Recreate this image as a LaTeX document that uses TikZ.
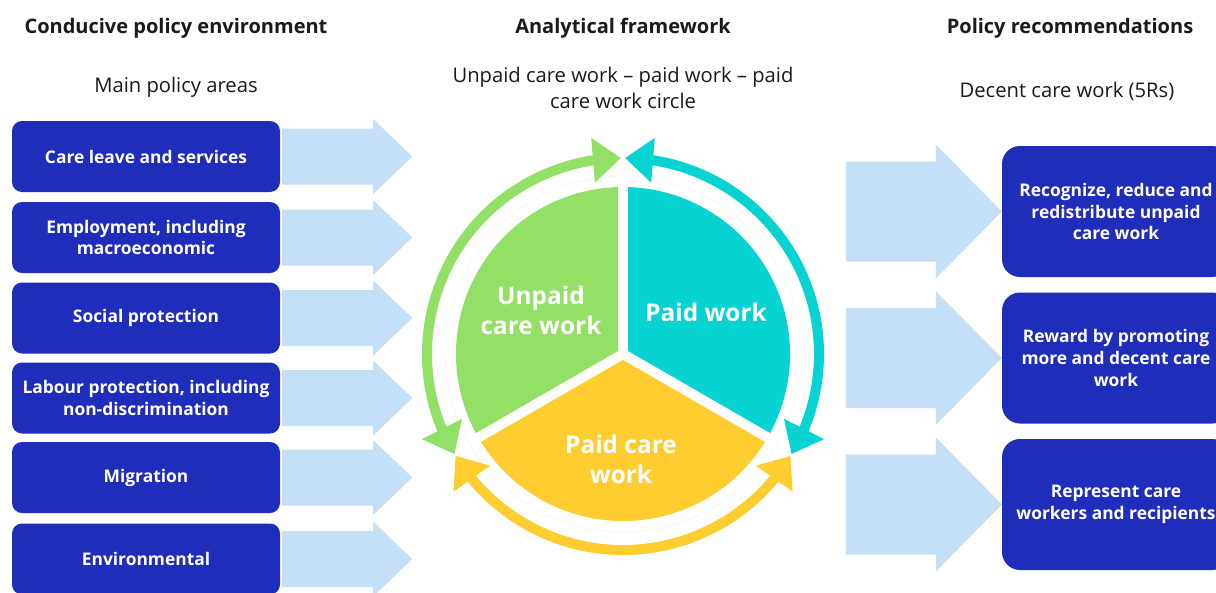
\documentclass[tikz,border=0pt]{standalone}
\usepackage{fontspec}
\setmainfont{Open Sans}
\usetikzlibrary{arrows.meta,bending,calc}

\definecolor{boxblue}{HTML}{1F2DBB}
\definecolor{arrowblue}{HTML}{C4DFF6}
\definecolor{pgreen}{HTML}{92E065}
\definecolor{pcyan}{HTML}{07D3D3}
\definecolor{pyellow}{HTML}{FFCD2F}
\definecolor{headtext}{HTML}{1A1A1A}

\begin{document}
\begin{tikzpicture}[x=1pt,y=1pt,
  heading/.style={text=headtext, font=\bfseries\fontsize{20}{24}\selectfont, inner sep=0pt, anchor=base},
  subheading/.style={text=headtext, font=\fontsize{20.2}{26}\selectfont, align=center, inner sep=0pt},
  policybox/.style={fill=boxblue, rounded corners=10pt, minimum width=268pt, minimum height=71pt,
    inner sep=0pt, text=white, align=center, font=\bfseries\fontsize{17.4}{21.5}\selectfont},
  recbox/.style={fill=boxblue, rounded corners=18pt, minimum width=228pt, minimum height=131pt,
    inner sep=0pt, text=white, align=center, font=\bfseries\fontsize{17.4}{21.8}\selectfont},
  pielabel/.style={text=white, align=center, font=\bfseries\fontsize{24.4}{30}\selectfont, inner sep=0pt},
  cyclearc/.style={line width=10pt, {Triangle[width=43pt,length=28pt]}-{Triangle[width=43pt,length=28pt]}},
  gap/.style={white, line width=10pt}
]
\clip (0,0) rectangle (1216,-592);
\fill[white] (0,0) rectangle (1216,-592);

% column headings
\node[heading] (h1) at (176,-33) {Conducive policy environment};
\node[heading] (h2) at (623,-33) {Analytical framework};
\node[heading] (h3) at (1070,-33) {Policy recommendations};

\node[subheading, anchor=base] (s1) at (176,-92) {Main policy areas};
\node[subheading] (s2) at (623,-88) {Unpaid care work -- paid work -- paid\\care work circle};
\node[subheading, anchor=base] (s3) at (1067,-97) {Decent care work (5Rs)};

% policy areas
\node[policybox] (L1) at (146,-156.5) {Care leave and services};
\node[policybox] (L2) at (146,-237.5) {Employment, including\\macroeconomic};
\node[policybox] (L3) at (146,-318) {Social protection};
\node[policybox] (L4) at (146,-398) {Labour protection, including\\non-discrimination};
\node[policybox] (L5) at (146,-477.5) {Migration};
\node[policybox] (L6) at (146,-559) {Environmental};

\foreach \n in {L1,L2,L3,L4,L5,L6}{
  \fill[arrowblue] ($(\n.east)+(2,28)$) -- ($(\n.east)+(93,28)$) -- ($(\n.east)+(93,37.5)$)
    -- ($(\n.east)+(132,0)$) -- ($(\n.east)+(93,-37.5)$) -- ($(\n.east)+(93,-28)$)
    -- ($(\n.east)+(2,-28)$) -- cycle;
}

% recommendations
\node[recbox] (R1) at (1116,-211.5) {Recognize, reduce and\\redistribute unpaid\\care work};
\node[recbox] (R2) at (1116,-358) {Reward by promoting\\more and decent care\\work};
\node[recbox] (R3) at (1116,-504.5) {Represent care\\workers and recipients};

\foreach \n in {R1,R2,R3}{
  \fill[arrowblue] ($(\n.west)+(-156,50)$) -- ($(\n.west)+(-66,50)$) -- ($(\n.west)+(-66,67)$)
    -- (\n.west) -- ($(\n.west)+(-66,-67)$) -- ($(\n.west)+(-66,-50)$)
    -- ($(\n.west)+(-156,-50)$) -- cycle;
}

% the circle
\coordinate (C) at (623,-354);
\draw[black!3, line width=0.8pt] (C) circle[radius=178pt];
\fill[pgreen]  (C) -- ++(90:167pt)  arc[start angle=90,  end angle=210, radius=167pt] -- cycle;
\fill[pyellow] (C) -- ++(210:167pt) arc[start angle=210, end angle=330, radius=167pt] -- cycle;
\fill[pcyan]   (C) -- ++(330:167pt) arc[start angle=-30, end angle=90,  radius=167pt] -- cycle;
\draw[gap] (C) -- ++(90:172pt);
\draw[gap] (C) -- ++(210:172pt);
\draw[gap] (C) -- ++(330:172pt);

\node[pielabel] (uc) at (541,-310) {Unpaid\\care work};
\node[pielabel] (pw) at (706,-312) {Paid work};
\node[pielabel] (pc) at (621,-459) {Paid care\\work};

% cycle arrows
\draw[cyclearc, pgreen]  (C) ++(210.7:196pt) arc[start angle=210.7, end angle=90.6, radius=196pt];
\draw[cyclearc, pcyan]   (C) ++(89.4:196pt)  arc[start angle=89.4, end angle=-30.7, radius=196pt];
\draw[cyclearc, pyellow] (C) ++(-31.3:196pt) arc[start angle=-31.3, end angle=-148.7, radius=196pt];
\end{tikzpicture}
\end{document}
